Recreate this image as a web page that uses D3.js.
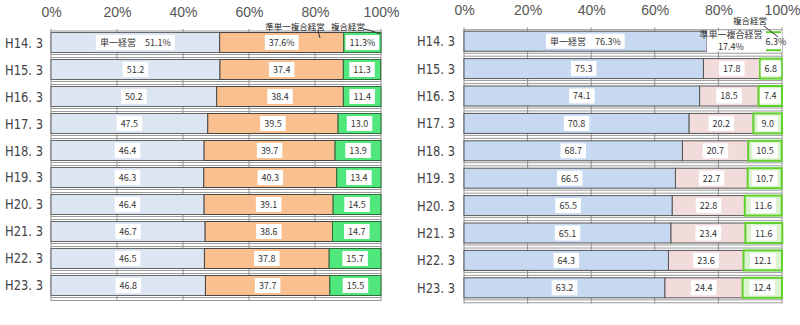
<!DOCTYPE html>
<html><head><meta charset="utf-8">
<script src="https://cdn.jsdelivr.net/npm/d3@7/dist/d3.min.js"></script>
<style>body{margin:0;background:#fff}svg{display:block}</style>
</head><body>
<svg id="c" width="800" height="325"></svg>
<script>
const categories = ["H14.3","H15.3","H16.3","H17.3","H18.3","H19.3","H20.3","H21.3","H22.3","H23.3"];
const rowLabels = ["H14. 3","H15. 3","H16. 3","H17. 3","H18. 3","H19. 3","H20. 3","H21. 3","H22. 3","H23. 3"];
const seriesNames = ["単一経営","準単一複合経営","複合経営"];
const leftSingle = [51.1,51.2,50.2,47.5,46.4,46.3,46.4,46.7,46.5,46.8];
const leftSemi   = [37.6,37.4,38.4,39.5,39.7,40.3,39.1,38.6,37.8,37.7];
const leftMulti  = [11.3,11.3,11.4,13.0,13.9,13.4,14.5,14.7,15.7,15.5];
const rightSingle = [76.3,75.3,74.1,70.8,68.7,66.5,65.5,65.1,64.3,63.2];
const rightSemi   = [17.4,17.8,18.5,20.2,20.7,22.7,22.8,23.4,23.6,24.4];
const rightMulti  = [6.3,6.8,7.4,9.0,10.5,10.7,11.6,11.6,12.1,12.4];
const tickValues = [0,20,40,60,80,100];

const svg = d3.select("#c");
const FONT = "'Noto Sans CJK JP','DejaVu Sans',sans-serif";

function panel(cfg){
  const g = svg.append("g");
  const x = d3.scaleLinear().domain([0,100]).range([cfg.x0,cfg.x1]);
  const y = d3.scaleBand().domain(categories).range([cfg.y0,cfg.y1])
              .paddingInner(cfg.pin).paddingOuter(cfg.pout);
  const bw = y.bandwidth();
  g.selectAll("line.v").data(tickValues).join("line")
    .attr("x1",d=>x(d)).attr("x2",d=>x(d)).attr("y1",cfg.y0).attr("y2",cfg.y1+2)
    .attr("stroke","#8c8c8c").attr("stroke-width",1);
  categories.forEach(c=>{
    const gy = y(c)+bw;
    [2,5].forEach(o=>{
      g.append("line").attr("x1",cfg.x0).attr("x2",cfg.x1)
        .attr("y1",gy+o).attr("y2",gy+o).attr("stroke","#9a9a9a").attr("stroke-width",1);
    });
  });
  g.append("line").attr("x1",cfg.x0).attr("x2",cfg.x1).attr("y1",y(categories[0])-1.5).attr("y2",y(categories[0])-1.5)
    .attr("stroke","#9a9a9a");
  const axis = d3.axisTop(x).tickValues(tickValues).tickFormat(d=>d+"%").tickSize(0);
  const ag = g.append("g").attr("transform",`translate(0,${cfg.tickY})`).call(axis);
  ag.select(".domain").remove();
  ag.selectAll("text").attr("font-family","'Liberation Sans Narrow','Liberation Sans',sans-serif")
    .attr("font-size",14).attr("fill","#555").attr("dy",0);
  g.selectAll("text.row").data(categories).join("text")
    .attr("x",cfg.labelX).attr("y",d=>y(d)+bw/2+5)
    .attr("font-family","'DejaVu Sans',sans-serif").attr("font-size",14).attr("fill","#444")
    .attr("textLength",38).attr("lengthAdjust","spacingAndGlyphs")
    .text((d,i)=>rowLabels[i]);
  const segs = [];
  categories.forEach((c,i)=>{
    const vals=[cfg.a[i],cfg.b[i],cfg.c[i]];
    let acc=0;
    vals.forEach((v,k)=>{ segs.push({c,i,k,v,start:acc}); acc+=v; });
  });
  segs.forEach(s=>{
    const sx=x(s.start), ex=x(s.start+s.v), ty=y(s.c);
    const st = cfg.style(s);
    g.append("rect").attr("x",sx).attr("y",ty).attr("width",ex-sx).attr("height",bw)
      .attr("fill",st.fill).attr("stroke",st.stroke).attr("stroke-width",st.sw);
    if(st.bracket){
      [ty+1,ty+bw-1].forEach(yy=>g.append("line").attr("x1",sx+4).attr("x2",ex-1).attr("y1",yy).attr("y2",yy)
        .attr("stroke",st.bracket).attr("stroke-width",2));
    }
  });
  segs.forEach(s=>{
    const lab = cfg.label(s);
    if(!lab) return;
    const cx = lab.cx!==undefined?lab.cx:(x(s.start)+x(s.start+s.v))/2;
    const cy = lab.cy!==undefined?lab.cy:y(s.c)+bw/2;
    const lines = lab.text;
    const lg = g.append("g");
    lines.forEach((t,j)=>lg.append("text").attr("x",cx).attr("y",cy+3.5+(j-(lines.length-1)/2)*12)
      .attr("text-anchor","middle").attr("font-family",FONT).attr("font-size",9).attr("fill","#333").text(t));
    if(lab.box!==false){
      const bb = lg.node().getBBox();
      lg.insert("rect","text").attr("x",bb.x-4).attr("y",bb.y-1).attr("width",bb.width+8).attr("height",bb.height+2)
        .attr("fill","#fff");
    }
  });
  return {g,x,y,bw};
}

const fmt = v=>v.toFixed(1);

panel({
  x0:51,x1:381,y0:29,y1:299,pin:7/27,pout:0.13,tickY:20,labelX:5,
  a:leftSingle,b:leftSemi,c:leftMulti,
  style:s=>({fill:["#dce6f2","#fac090","#50e87c"][s.k],stroke:["#666","#444","#2f6b3a"][s.k],sw:1}),
  label:s=>{
    if(s.i===0){
      if(s.k===0) return {text:[seriesNames[0]+"　"+fmt(s.v)+"%"]};
      return {text:[fmt(s.v)+"%"]};
    }
    return {text:[fmt(s.v)]};
  }
});
[[seriesNames[1],295,30],[seriesNames[2],348,30]].forEach(([t,cx,cy])=>{
  svg.append("text").attr("x",cx).attr("y",cy).attr("text-anchor","middle")
    .attr("font-family",FONT).attr("font-size",8.5).attr("fill","#222").text(t);
});
svg.append("line").attr("x1",318).attr("y1",31).attr("x2",320).attr("y2",38).attr("stroke","#333");
svg.append("path").attr("d","M364,29 L372,31 L380,34").attr("fill","none").attr("stroke","#333");

panel({
  x0:464,x1:782,y0:27.5,y1:301.5,pin:7.4/27.4,pout:0.135,tickY:18,labelX:417,
  a:rightSingle,b:rightSemi,c:rightMulti,
  style:s=>{
    if(s.i===0 && s.k===1) return {fill:"#fff",stroke:"none",sw:0};
    if(s.i===0 && s.k===2) return {fill:"#fff",stroke:"none",sw:0,bracket:"#5fd02c"};
    return {fill:["#c6d9f1","#f2dcdb","#dcf3cf"][s.k],stroke:["#555","#555","#5fd02c"][s.k],sw:s.k===2?2:1};
  },
  label:s=>{
    if(s.i===0){
      if(s.k===0) return {text:[seriesNames[0]+"　"+fmt(s.v)+"%"]};
      if(s.k===1) return {text:[seriesNames[1],fmt(s.v)+"%"],cx:731,cy:40,box:false};
      return {text:[fmt(s.v)+"%"],cx:776,cy:41,box:false};
    }
    return {text:[fmt(s.v)]};
  }
});
svg.append("text").attr("x",750).attr("y",24).attr("text-anchor","middle")
  .attr("font-family",FONT).attr("font-size",8.5).attr("fill","#222").text(seriesNames[2]);
svg.append("line").attr("x1",764).attr("y1",26).attr("x2",778).attr("y2",37).attr("stroke","#333");
</script>
</body></html>
